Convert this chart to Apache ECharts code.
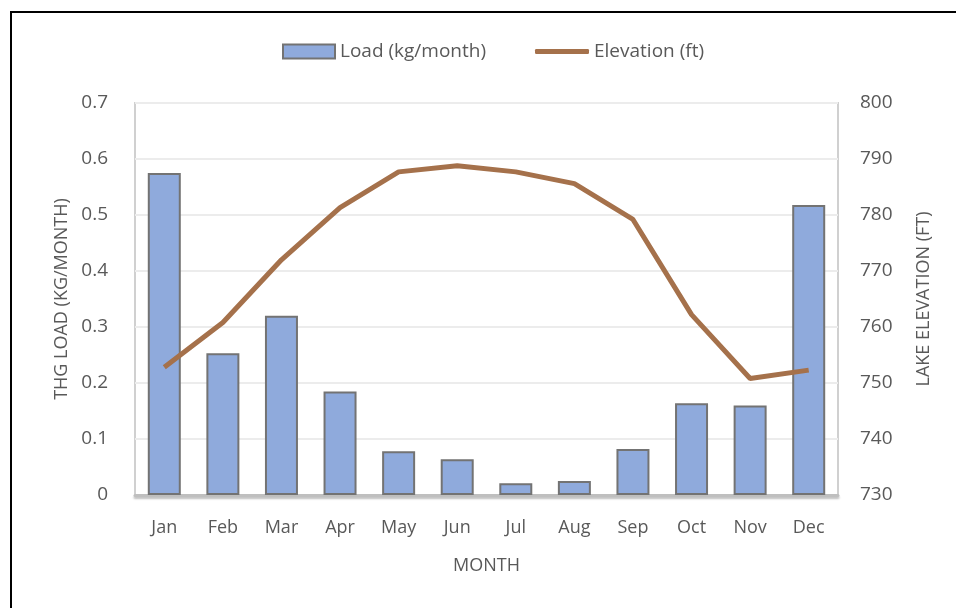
<!DOCTYPE html>
<html><head><meta charset="utf-8">
<script src="https://cdn.jsdelivr.net/npm/echarts@6/dist/echarts.min.js"></script>
<style>html,body{margin:0;padding:0;background:#fff}#frame{position:absolute;left:10px;top:11px;width:960px;height:620px;border:2px solid #000;box-sizing:border-box}#c{position:absolute;left:0;top:0;width:956px;height:608px}</style>
</head><body><div id="frame"></div><div id="c"></div>
<script>
const months = ['Jan','Feb','Mar','Apr','May','Jun','Jul','Aug','Sep','Oct','Nov','Dec'];
const loadValues = [0.575,0.253,0.320,0.185,0.078,0.064,0.021,0.025,0.082,0.164,0.160,0.518];
const elevationValues = [752.8,760.8,772.0,781.3,787.7,788.8,787.7,785.6,779.2,762.2,750.8,752.3];
const leftTicks = [0,0.1,0.2,0.3,0.4,0.5,0.6,0.7];
const rightTicks = [730,740,750,760,770,780,790,800];

const font = 'Open Sans, Noto Sans, sans-serif';
const txt = {fontFamily:font,fontSize:18,color:'#595959'};
const chart = echarts.init(document.getElementById('c'));
chart.setOption({
  animation:false,
  legend:[
    {top:37,left:277,itemGap:10,itemWidth:52,itemHeight:14,textStyle:Object.assign({},txt,{fontSize:19}),
     data:[{name:'Load (kg/month)',icon:'rect'}]},
    {top:37,left:530,itemWidth:54,itemHeight:5,textStyle:Object.assign({},txt,{fontSize:19}),
     data:[{name:'Elevation (ft)',icon:'roundRect'}]}
  ],
  grid:{left:135,right:118,top:103,bottom:113,show:true,borderColor:'#d0d0d0',borderWidth:2},
  xAxis:{type:'category',data:months,
    axisLine:{lineStyle:{color:'#bfbfbf',width:3,shadowColor:'rgba(0,0,0,0.25)',shadowOffsetY:2,shadowBlur:2}},axisTick:{show:false},
    axisLabel:Object.assign({margin:24},txt),
    name:'MONTH',nameLocation:'middle',nameGap:62,
    nameTextStyle:txt},
  yAxis:[{type:'value',min:0,max:0.7,interval:0.1,
    axisLabel:Object.assign({margin:27,
      formatter:v=>{const t=leftTicks.find(x=>Math.abs(x-v)<1e-9);return t===0?'0':String(t);}},txt,{fontSize:19}),
    splitLine:{lineStyle:{color:'#ececec',width:2}},
    name:'THG LOAD (KG/MONTH)',nameLocation:'middle',nameGap:64,
    nameTextStyle:txt},
   {type:'value',min:730,max:800,interval:10,
    axisLabel:Object.assign({margin:22,
      formatter:v=>String(rightTicks.find(x=>Math.abs(x-v)<1e-9))},txt,{fontSize:19}),
    splitLine:{show:false},
    name:'LAKE ELEVATION (FT)',nameLocation:'middle',nameGap:77,nameRotate:90,
    nameTextStyle:txt}],
  series:[
    {name:'Load (kg/month)',type:'bar',data:loadValues,barWidth:33,
     itemStyle:{color:'#8FAADC',borderColor:'#737373',borderWidth:2}},
    {name:'Elevation (ft)',type:'line',yAxisIndex:1,data:elevationValues,
     symbol:'none',lineStyle:{color:'#A5714B',width:5},itemStyle:{color:'#A5714B'}}
  ]
});
</script></body></html>
